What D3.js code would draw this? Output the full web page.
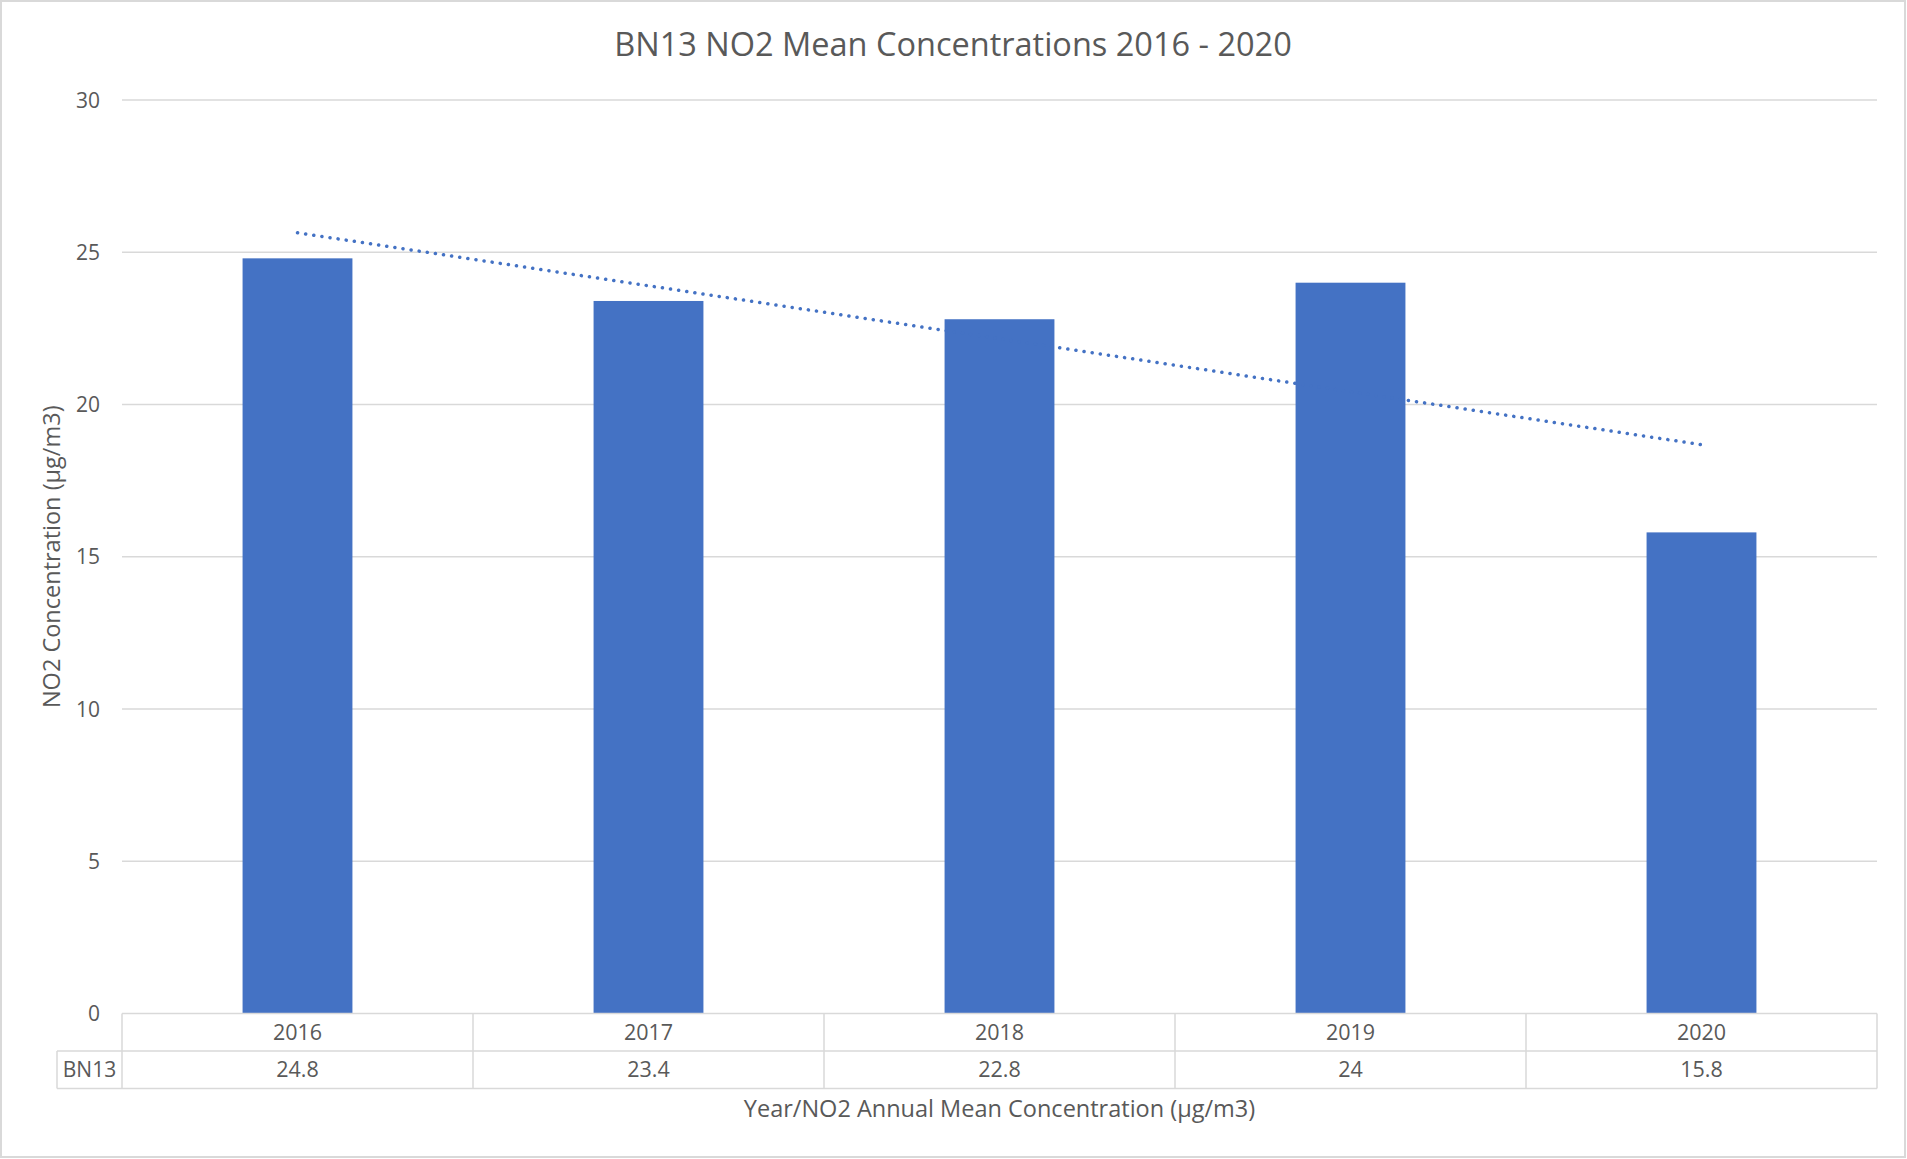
<!DOCTYPE html>
<html>
<head>
<meta charset="utf-8">
<script src="https://cdn.jsdelivr.net/npm/d3@7"></script>
<style>
  html, body { margin: 0; padding: 0; background: #fff; }
  svg { display: block; }
  text { font-family: "Open Sans", sans-serif; fill: #595959; }
</style>
</head>
<body>
<script>
// ---- data ----
const categories = ["2016", "2017", "2018", "2019", "2020"];
const values = [24.8, 23.4, 22.8, 24, 15.8];
const seriesName = "BN13";
const yTicks = [0, 5, 10, 15, 20, 25, 30];
const titleText = "BN13 NO2 Mean Concentrations 2016 - 2020";
const yTitleText = "NO2 Concentration (µg/m3)";
const xTitleText = "Year/NO2 Annual Mean Concentration (µg/m3)";

// ---- layout ----
const W = 1907, H = 1159;
const plot = { left: 122, right: 1877, top: 100, bottom: 1013.5 };
const rowH = 37.5;
const legendLeft = 57;
const grid = "#D9D9D9";
const barColor = "#4472C4";

const svg = d3.select("body").append("svg").attr("width", W).attr("height", H);

// chart border
svg.append("rect").attr("x", 1).attr("y", 1).attr("width", W - 3).attr("height", H - 3)
  .attr("fill", "#fff").attr("stroke", grid).attr("stroke-width", 2);

const y = d3.scaleLinear().domain([0, 30]).range([plot.bottom, plot.top]);
const col = d3.scaleBand().domain(categories).range([plot.left, plot.right]).padding(0);
const p = 0.687;
const xb = d3.scaleBand().domain(categories).range([plot.left, plot.right])
  .paddingInner(p).paddingOuter(p / 2);

// gridlines
svg.append("g").selectAll("line").data(yTicks.filter(t => t > 0)).join("line")
  .attr("x1", plot.left).attr("x2", plot.right)
  .attr("y1", d => y(d)).attr("y2", d => y(d))
  .attr("stroke", grid).attr("stroke-width", 1.5);

// y axis labels
const yAxis = d3.axisLeft(y).tickValues(yTicks).tickSize(0).tickPadding(0);
const yg = svg.append("g").attr("transform", `translate(${plot.left - 22},0)`).call(yAxis);
yg.select(".domain").remove();
yg.selectAll("text").style("font-size", "21px").attr("fill", "#595959").attr("dy", "0.34em")
  .style("font-family", '"Open Sans", sans-serif');

// bars
svg.append("g").selectAll("rect").data(categories).join("rect")
  .attr("x", d => xb(d)).attr("width", xb.bandwidth())
  .attr("y", (d, i) => y(values[i])).attr("height", (d, i) => y(0) - y(values[i]))
  .attr("fill", barColor);

// linear trendline (least squares on category index)
const n = values.length;
const xs = values.map((v, i) => i + 1);
const mx = d3.mean(xs), my = d3.mean(values);
const slope = d3.sum(xs.map((xv, i) => (xv - mx) * (values[i] - my))) / d3.sum(xs.map(xv => (xv - mx) ** 2));
const icpt = my - slope * mx;
const xc = i => col(categories[i]) + col.bandwidth() / 2;
svg.append("line")
  .attr("x1", xc(0)).attr("y1", y(icpt + slope * 1))
  .attr("x2", xc(n - 1)).attr("y2", y(icpt + slope * n))
  .attr("stroke", barColor).attr("stroke-width", 3.5)
  .attr("stroke-linecap", "round").attr("stroke-dasharray", "0.1 8.1");

// data table
const tg = svg.append("g").attr("stroke", grid).attr("stroke-width", 1.5).attr("fill", "none");
const r0 = plot.bottom, r1 = plot.bottom + rowH, r2 = plot.bottom + 2 * rowH;
tg.append("line").attr("x1", plot.left).attr("x2", plot.right).attr("y1", r0).attr("y2", r0);
tg.append("line").attr("x1", legendLeft).attr("x2", plot.right).attr("y1", r1).attr("y2", r1);
tg.append("line").attr("x1", legendLeft).attr("x2", plot.right).attr("y1", r2).attr("y2", r2);
tg.append("line").attr("x1", legendLeft).attr("x2", legendLeft).attr("y1", r1).attr("y2", r2);
tg.selectAll("line.v").data(categories).join("line").attr("class", "v")
  .attr("x1", d => col(d)).attr("x2", d => col(d)).attr("y1", r0).attr("y2", r2);
tg.append("line").attr("x1", plot.right).attr("x2", plot.right).attr("y1", r0).attr("y2", r2);

svg.append("g").selectAll("text").data(categories).join("text")
  .attr("x", d => col(d) + col.bandwidth() / 2).attr("y", (r0 + r1) / 2).attr("dy", "0.35em")
  .attr("text-anchor", "middle").style("font-size", "21.5px").text(d => d);
svg.append("g").selectAll("text").data(values).join("text")
  .attr("x", (d, i) => col(categories[i]) + col.bandwidth() / 2).attr("y", (r1 + r2) / 2).attr("dy", "0.35em")
  .attr("text-anchor", "middle").style("font-size", "21.5px").text(d => d);
svg.append("text").attr("x", (legendLeft + plot.left) / 2).attr("y", (r1 + r2) / 2).attr("dy", "0.35em")
  .attr("text-anchor", "middle").style("font-size", "21px").text(seriesName);

// titles
svg.append("text").attr("x", 953).attr("y", 45).attr("dy", "0.35em").attr("text-anchor", "middle")
  .style("font-size", "32.5px").text(titleText);
svg.append("text").attr("transform", `translate(52,${(plot.top + plot.bottom) / 2}) rotate(-90)`)
  .attr("dy", "0.35em").attr("text-anchor", "middle").style("font-size", "23.5px").text(yTitleText);
svg.append("text").attr("x", (plot.left + plot.right) / 2).attr("y", 1109).attr("dy", "0.35em")
  .attr("text-anchor", "middle").style("font-size", "23.5px").text(xTitleText);
</script>
</body>
</html>
